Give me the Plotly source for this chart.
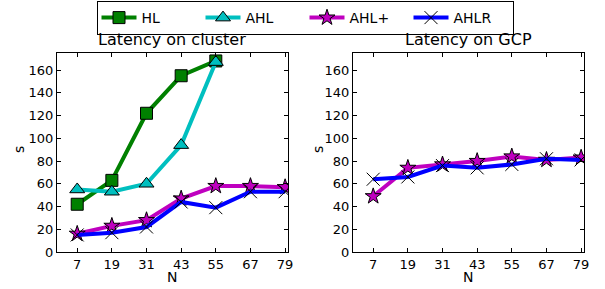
import plotly.graph_objects as go

N = [7, 19, 31, 43, 55, 67, 79]
N_hl = [7, 19, 31, 43, 55]

cluster_HL = [42, 63, 122, 155, 168]
cluster_AHL = [55, 53, 60, 94, 167]
cluster_AHLp = [16, 23, 28, 47, 58, 58, 57]
cluster_AHLR = [15, 17, 22, 44, 39, 53, 53]

gcp_AHLp = [49, 74, 77, 80, 84, 81, 83]
gcp_AHLR = [64, 66, 76, 74, 77, 82, 81]

x_ticks = [7, 19, 31, 43, 55, 67, 79]
y_ticks = [0, 20, 40, 60, 80, 100, 120, 140, 160]

FONT = "DejaVu Sans"
fig = go.Figure()

styles = {
    "HL": dict(color="#008000", symbol="square", size=12),
    "AHL": dict(color="#00BFBF", symbol="triangle-up", size=13),
    "AHL+": dict(color="#BF00BF", symbol="star", size=12),
    "AHLR": dict(color="#0000FF", symbol="x-thin", size=13),
}

def add(name, x, y, xa, ya, show):
    s = styles[name]
    if s["symbol"] == "x-thin":
        marker = dict(symbol="x-thin", size=s["size"], color="black",
                      line=dict(color="black", width=1))
    else:
        marker = dict(symbol=s["symbol"], size=s["size"], color=s["color"],
                      line=dict(color="black", width=1))
    fig.add_trace(go.Scatter(x=x, y=y, mode="lines+markers", name=name,
                             line=dict(color=s["color"], width=4),
                             marker=marker, xaxis=xa, yaxis=ya,
                             showlegend=show, legendgroup=name))

add("HL", N_hl, cluster_HL, "x", "y", True)
add("AHL", N_hl, cluster_AHL, "x", "y", True)
add("AHL+", N, cluster_AHLp, "x", "y", True)
add("AHLR", N, cluster_AHLR, "x", "y", True)
add("AHL+", N, gcp_AHLp, "x2", "y2", False)
add("AHLR", N, gcp_AHLR, "x2", "y2", False)

W, H = 605, 289
def px_x(p): return p / W
def px_y(p): return 1 - p / H

axis_common = dict(showgrid=False, zeroline=False, showline=True, linecolor="black",
                   linewidth=1, mirror="allticks", ticks="inside", ticklen=4,
                   tickcolor="black", tickfont=dict(family=FONT, size=13, color="black"),
                   automargin=False)

def label(text, x, y, angle=0, size=14, yanchor="middle"):
    return dict(text=text, x=px_x(x), y=px_y(y), xref="paper", yref="paper",
                xanchor="center", yanchor=yanchor, showarrow=False, textangle=angle,
                font=dict(family=FONT, size=size, color="black"))

fig.update_layout(
    width=W, height=H, margin=dict(l=0, r=0, t=0, b=0, autoexpand=False),
    paper_bgcolor="white", plot_bgcolor="white",
    font=dict(family=FONT, color="black"),
    xaxis=dict(domain=[px_x(57), px_x(288)], range=[0, 80], tickvals=x_ticks,
               anchor="y", **axis_common),
    yaxis=dict(domain=[px_y(252), px_y(53)], range=[0, 175], tickvals=y_ticks,
               anchor="x", **axis_common),
    xaxis2=dict(domain=[px_x(353), px_x(584)], range=[0, 80], tickvals=x_ticks,
                anchor="y2", **axis_common),
    yaxis2=dict(domain=[px_y(252), px_y(53)], range=[0, 175], tickvals=y_ticks,
                anchor="x2", **axis_common),
    legend=dict(orientation="h", x=px_x(305), xanchor="center", y=px_y(1), yanchor="top",
                yref="container", xref="container",
                bordercolor="black", borderwidth=1, bgcolor="white",
                itemwidth=35, entrywidth=54, entrywidthmode="pixels",
                font=dict(family=FONT, size=14, color="black")),
    annotations=[
        label("Latency on cluster", 172, 51, size=16, yanchor="bottom"),
        label("Latency on GCP", 468, 51, size=16, yanchor="bottom"),
        label("N", 172, 277),
        label("N", 468, 277),
        label("s", 19, 150, angle=-90),
        label("s", 318, 150, angle=-90),
    ],
)

fig.write_html("out.html", config={"displayModeBar": False},
               post_script="document.body.style.margin='0px';document.body.style.overflow='hidden';")
